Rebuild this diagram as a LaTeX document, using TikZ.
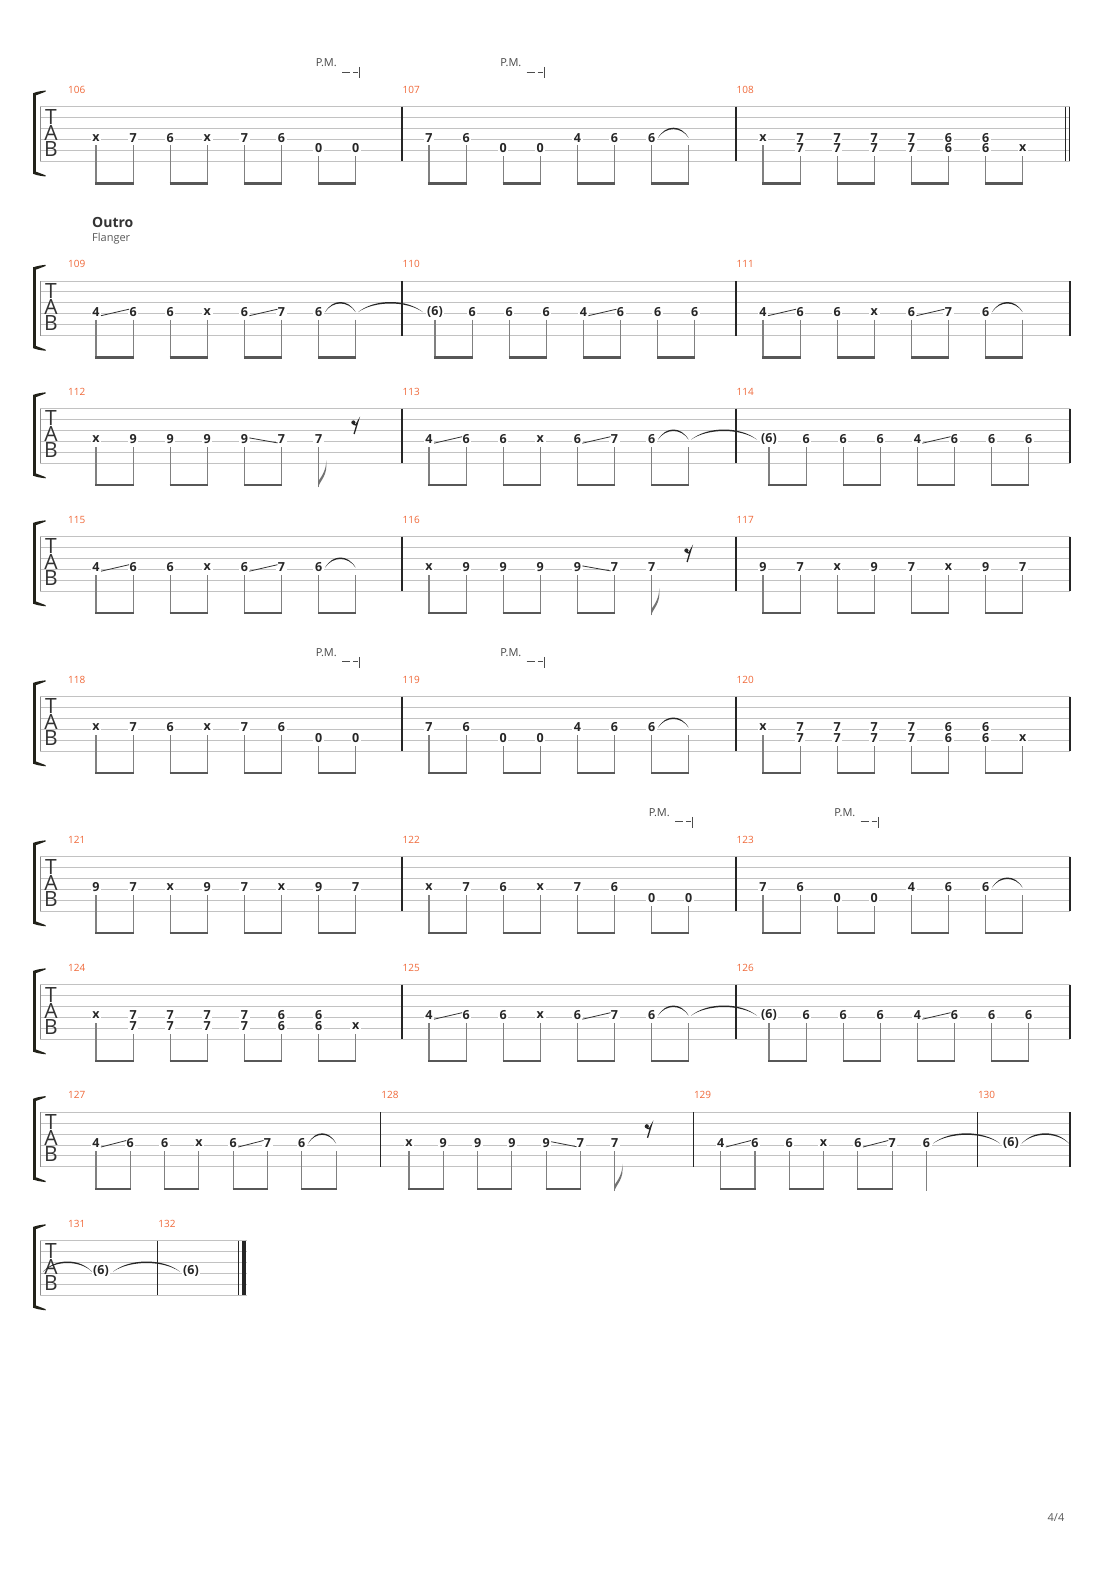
\documentclass[tikz,border=0pt]{standalone}
\usepackage{fontspec}
\setmainfont{Open Sans}
\definecolor{mnumcol}{HTML}{F0693A}
\definecolor{brackcol}{HTML}{22221A}
\newcounter{fnc}
\tikzset{
 staffln/.style={draw=black!24, line width=0.9pt},
 barln/.style={draw=black!85, line width=1.2pt},
 thinbar/.style={draw=black!85, line width=0.9pt},
 stemln/.style={draw=black!50, line width=1.1pt},
 beamln/.style={draw=black!66, line width=2.6pt},
 slideln/.style={draw=black!80, line width=0.8pt},
 fret/.style={font=\fontsize{12.5}{14}\selectfont\bfseries, fill=white, inner xsep=1.6pt, inner ysep=0.5pt, text=black!85},
 mnum/.style={font=\fontsize{10}{12}\selectfont, text=mnumcol, anchor=west, inner sep=0pt},
 clef/.style={font=\fontsize{21}{16}\selectfont, text=black!80, inner sep=0pt, align=center, anchor=north},
 pmtxt/.style={font=\fontsize{11}{12}\selectfont, text=black!72, inner sep=0pt, anchor=west},
 pmln/.style={draw=black!70, line width=0.8pt},
 tiecol/.style={fill=black!85},
}
\newcommand{\Fset}[2]{\def\FMx{#1}\def\FMd{#2}}
\newcommand{\Fnote}[3]{\stepcounter{fnc}%
 \pgfmathsetmacro\Fxx{\FMx+#1*\FMd}\pgfmathsetmacro\Fyy{(#2-1)*10.9}%
 \node[fret] (f\arabic{fnc}) at (\Fxx,\Fyy-1.8) {#3};%
 \draw[stemln] (\Fxx,\Fyy+6) -- (\Fxx,77.5);}
\newcommand{\Fnostem}[2]{\stepcounter{fnc}%
 \node[fret] (f\arabic{fnc}) at (#1,32.7-1.8) {#2};}
\newcommand{\Fhid}[2]{\pgfmathsetmacro\Fxx{\FMx+#1*\FMd}\pgfmathsetmacro\Fyy{(#2-1)*10.9}%
 \draw[stemln] (\Fxx,\Fyy+6) -- (\Fxx,77.5);}
\newcommand{\Fchord}[3]{\stepcounter{fnc}%
 \pgfmathsetmacro\Fxx{\FMx+#1*\FMd}%
 \node[fret] (f\arabic{fnc}) at (\Fxx,32.7-1.8) {#2};%
 \stepcounter{fnc}%
 \node[fret] (f\arabic{fnc}) at (\Fxx,43.6-1.8) {#3};%
 \draw[stemln] (\Fxx,43.6+6) -- (\Fxx,77.5);}
\newcommand{\Fflag}[3]{\stepcounter{fnc}%
 \pgfmathsetmacro\Fxx{\FMx+#1*\FMd}\pgfmathsetmacro\Fyy{(#2-1)*10.9}%
 \node[fret] (f\arabic{fnc}) at (\Fxx,\Fyy-1.8) {#3};%
 \draw[stemln] (\Fxx,\Fyy+6) -- (\Fxx,78.5);%
 \fill[black!55] (\Fxx-0.5,78.8) .. controls (\Fxx+2,71) and (\Fxx+9.5,67) .. (\Fxx+7.5,51.5) .. controls (\Fxx+8,61) and (\Fxx+3,68) .. (\Fxx-0.5,73) -- cycle;}
\newcommand{\Fbeam}[2]{\pgfmathsetmacro\Fxa{\FMx+#1*\FMd-0.55}\pgfmathsetmacro\Fxb{\FMx+#2*\FMd+0.55}%
 \draw[beamln] (\Fxa,76.6) -- (\Fxb,76.6);}
\newcommand{\Fbeams}{\Fbeam{0}{1}\Fbeam{2}{3}\Fbeam{4}{5}\Fbeam{6}{7}}
\newcommand{\Fslup}[2]{\pgfmathsetmacro\Fxa{\FMx+#1*\FMd+5}\pgfmathsetmacro\Fxb{\FMx+#2*\FMd-4}%
 \draw[slideln] (\Fxa,34.7) -- (\Fxb,28.2);}
\newcommand{\Fsldn}[2]{\pgfmathsetmacro\Fxa{\FMx+#1*\FMd+5}\pgfmathsetmacro\Fxb{\FMx+#2*\FMd-4}%
 \draw[slideln] (\Fxa,29.4) -- (\Fxb,34.4);}
\newcommand{\Ftie}[2]{\pgfmathsetmacro\Ftw{#2-(#1)}%
 \fill[tiecol] (#1,31.2) .. controls ({#1+0.25*\Ftw},17.6) and ({#2-0.25*\Ftw},17.6) .. (#2,31.2)
  .. controls ({#2-0.25*\Ftw},19.6) and ({#1+0.25*\Ftw},19.6) .. cycle;}
\newcommand{\Ftiei}[1]{\pgfmathsetmacro\Fta{\FMx+#1*\FMd+6.4}\pgfmathsetmacro\Ftb{\FMx+(#1+1)*\FMd}\Ftie{\Fta}{\Ftb}}
\newcommand{\Frest}[1]{\fill[black!85] (#1-1.3,14) circle (2.1);
 \draw[black!85, line width=1.3pt] (#1-1.3,15.8) .. controls (#1+1,17) .. (#1+3.1,13.2) -- (#1-0.6,25.5);}
\newcommand{\Fpm}[1]{\node[pmtxt] at (#1-3,-43.7) {P.M.};
 \draw[pmln] (#1+23.4,-34.7) -- (#1+31.4,-34.7) (#1+34.4,-34.7) -- (#1+39.4,-34.7);
 \draw[pmln] (#1+40.7,-39.7) -- (#1+40.7,-28.7);}
\newcommand{\Fclef}{%
 \node[clef] at (51,2.3) {T\\A\\B};
 \draw[draw=black!45, line width=0.8pt] (40,0) -- (40,54.5);
 \fill[brackcol] (33.2,-13.6) rectangle (36.4,67.2);
 \fill[brackcol] (33.2,-13.6) .. controls (38,-15.2) .. (45.5,-16.2) -- (45.5,-15) .. controls (40.5,-13.8) .. (36.4,-11.5) -- cycle;
 \fill[brackcol] (33.2,67.2) .. controls (38,68.8) .. (45.5,69.8) -- (45.5,68.6) .. controls (40.5,67.4) .. (36.4,65.1) -- cycle;}
\newcommand{\Fstaff}[1]{\foreach \k in {0,...,5} {\draw[staffln] (40,\k*10.9) -- (#1,\k*10.9);}\Fclef}
\newcommand{\Fbar}[1]{\draw[barln] (#1,0) -- (#1,54.5);}
\newcommand{\Fmnum}[2]{\node[mnum] at (#1,-17) {#2};}
% measure patterns
\newcommand{\FmRiffA}{\Fnote{0}{4}{x}\Fnote{1}{4}{7}\Fnote{2}{4}{6}\Fnote{3}{4}{x}\Fnote{4}{4}{7}\Fnote{5}{4}{6}\Fnote{6}{5}{0}\Fnote{7}{5}{0}\Fbeams}
\newcommand{\FmRiffB}{\Fnote{0}{4}{7}\Fnote{1}{4}{6}\Fnote{2}{5}{0}\Fnote{3}{5}{0}\Fnote{4}{4}{4}\Fnote{5}{4}{6}\Fnote{6}{4}{6}\Fhid{7}{4}\Fbeams\Ftiei{6}}
\newcommand{\FmRiffC}{\Fnote{0}{4}{x}\Fchord{1}{7}{7}\Fchord{2}{7}{7}\Fchord{3}{7}{7}\Fchord{4}{7}{7}\Fchord{5}{6}{6}\Fchord{6}{6}{6}\Fnote{7}{5}{x}\Fbeams}
\newcommand{\FmOutA}{\Fnote{0}{4}{4}\Fnote{1}{4}{6}\Fnote{2}{4}{6}\Fnote{3}{4}{x}\Fnote{4}{4}{6}\Fnote{5}{4}{7}\Fnote{6}{4}{6}\Fhid{7}{4}\Fbeams\Fslup{0}{1}\Fslup{4}{5}\Ftiei{6}}
\newcommand{\FmOutB}{\Fnote{0}{4}{(6)}\Fnote{1}{4}{6}\Fnote{2}{4}{6}\Fnote{3}{4}{6}\Fnote{4}{4}{4}\Fnote{5}{4}{6}\Fnote{6}{4}{6}\Fnote{7}{4}{6}\Fbeams\Fslup{4}{5}}
\newcommand{\FmNine}{\Fnote{0}{4}{x}\Fnote{1}{4}{9}\Fnote{2}{4}{9}\Fnote{3}{4}{9}\Fnote{4}{4}{9}\Fnote{5}{4}{7}\Fflag{6}{4}{7}\Fbeam{0}{1}\Fbeam{2}{3}\Fbeam{4}{5}\Fsldn{4}{5}\pgfmathsetmacro\Frx{\FMx+7*\FMd-1}\Frest{\Frx}}
\newcommand{\FmNineSeven}{\Fnote{0}{4}{9}\Fnote{1}{4}{7}\Fnote{2}{4}{x}\Fnote{3}{4}{9}\Fnote{4}{4}{7}\Fnote{5}{4}{x}\Fnote{6}{4}{9}\Fnote{7}{4}{7}\Fbeams}
\begin{document}
\begin{tikzpicture}[x=1pt,y=-1pt]
\fill[white] (0,0) rectangle (1110,1570);
\useasboundingbox (0,0) rectangle (1110,1570);
% ---------- system 1
\begin{scope}[shift={(0,106.7)}]
\Fstaff{1070}\Fbar{402}\Fbar{736}
\draw[thinbar] (1065.7,0) -- (1065.7,54.5);\draw[thinbar] (1069.8,0) -- (1069.8,54.5);
\Fmnum{68}{106}\Fmnum{402.5}{107}\Fmnum{736.5}{108}
\Fset{96}{37.1}\FmRiffA
\Fset{429}{37.1}\FmRiffB
\Fset{763}{37.1}\FmRiffC
\Fpm{318.6}\Fpm{503.2}
\end{scope}
% ---------- system 2
\begin{scope}[shift={(0,281)}]
\node[anchor=base west, inner sep=0pt, font=\fontsize{14}{16}\selectfont\bfseries, text=black!80] (outro) at (92,-53.3) {Outro};
\node[anchor=base west, inner sep=0pt, font=\fontsize{11}{12}\selectfont, text=black!65] (flanger) at (92,-39.3) {Flanger};
\Fstaff{1070}\Fbar{402}\Fbar{736}\Fbar{1070}
\Fmnum{68}{109}\Fmnum{402.5}{110}\Fmnum{736.5}{111}
\Fset{96}{37.1}\FmOutA
\Fset{435}{37.1}\FmOutB
\Fset{763}{37.1}\FmOutA
\Ftie{358}{423}
\end{scope}
% ---------- system 3
\begin{scope}[shift={(0,408.5)}]
\Fstaff{1070}\Fbar{402}\Fbar{736}\Fbar{1070}
\Fmnum{68}{112}\Fmnum{402.5}{113}\Fmnum{736.5}{114}
\Fset{96}{37.1}\FmNine
\Fset{429}{37.1}\FmOutA
\Fset{769}{37.1}\FmOutB
\Ftie{691}{757}
\end{scope}
% ---------- system 4
\begin{scope}[shift={(0,536.5)}]
\Fstaff{1070}\Fbar{402}\Fbar{736}\Fbar{1070}
\Fmnum{68}{115}\Fmnum{402.5}{116}\Fmnum{736.5}{117}
\Fset{96}{37.1}\FmOutA
\Fset{429}{37.1}\FmNine
\Fset{763}{37.1}\FmNineSeven
\end{scope}
% ---------- system 5
\begin{scope}[shift={(0,696.5)}]
\Fstaff{1070}\Fbar{402}\Fbar{736}\Fbar{1070}
\Fmnum{68}{118}\Fmnum{402.5}{119}\Fmnum{736.5}{120}
\Fset{96}{37.1}\FmRiffA
\Fset{429}{37.1}\FmRiffB
\Fset{763}{37.1}\FmRiffC
\Fpm{318.6}\Fpm{503.2}
\end{scope}
% ---------- system 6
\begin{scope}[shift={(0,856.5)}]
\Fstaff{1070}\Fbar{402}\Fbar{736}\Fbar{1070}
\Fmnum{68}{121}\Fmnum{402.5}{122}\Fmnum{736.5}{123}
\Fset{96}{37.1}\FmNineSeven
\Fset{429}{37.1}\FmRiffA
\Fset{763}{37.1}\FmRiffB
\Fpm{651.6}\Fpm{837.2}
\end{scope}
% ---------- system 7
\begin{scope}[shift={(0,984.5)}]
\Fstaff{1070}\Fbar{402}\Fbar{736}\Fbar{1070}
\Fmnum{68}{124}\Fmnum{402.5}{125}\Fmnum{736.5}{126}
\Fset{96}{37.1}\FmRiffC
\Fset{429}{37.1}\FmOutA
\Fset{769}{37.1}\FmOutB
\Ftie{691}{757}
\end{scope}
% ---------- system 8
\begin{scope}[shift={(0,1112.3)}]
\Fstaff{1070}\Fbar{380.7}\Fbar{693.3}\Fbar{977.3}\Fbar{1070}
\Fmnum{68}{127}\Fmnum{381.2}{128}\Fmnum{693.8}{129}\Fmnum{977.8}{130}
\Fset{96}{34.3}\FmOutA
\Fset{409}{34.3}\FmNine
\Fset{720.7}{34.3}
\Fnote{0}{4}{4}\Fnote{1}{4}{6}\Fnote{2}{4}{6}\Fnote{3}{4}{x}\Fnote{4}{4}{6}\Fnote{5}{4}{7}
\pgfmathsetmacro\Fxx{720.7+6*34.3}
\stepcounter{fnc}\node[fret] (f\arabic{fnc}) at (\Fxx,30.9) {6};
\draw[stemln] (\Fxx,38.7) -- (\Fxx,79);
\Fbeam{0}{1}\Fbeam{2}{3}\Fbeam{4}{5}\Fslup{0}{1}\Fslup{4}{5}
\Ftie{933}{1000}
\Fnostem{1011}{(6)}
\Ftie{1021.7}{1069}
\end{scope}
% ---------- system 9
\begin{scope}[shift={(0,1240.5)}]
\Fstaff{246.7}\Fbar{157.7}
\draw[thinbar] (238.7,0) -- (238.7,54.5);
\draw[draw=black!85, line width=4pt] (243.6,0) -- (243.6,54.5);
\Fmnum{68}{131}\Fmnum{158.2}{132}
\Ftie{43}{92}
\Fnostem{101}{(6)}
\Ftie{113}{180}
\Fnostem{191}{(6)}
\end{scope}
\node[font=\fontsize{11}{12}\selectfont, text=black!65, inner sep=0pt] (page) at (1056,1518) {4/4};
\end{tikzpicture}
\end{document}
